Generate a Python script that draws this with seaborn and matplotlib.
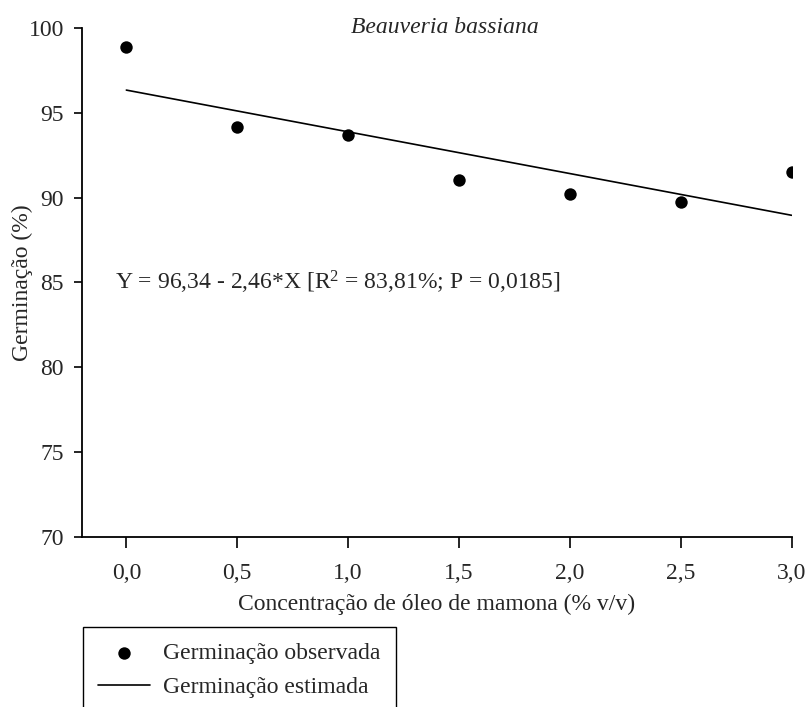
import numpy as np
import pandas as pd
import matplotlib
matplotlib.use('Agg')
import matplotlib.pyplot as plt
import seaborn as sns

# observed germination (%) per castor oil concentration (% v/v)
conc = [0.0, 0.5, 1.0, 1.5, 2.0, 2.5, 3.0]
germ_obs = [98.88, 94.19, 93.72, 91.02, 90.20, 89.72, 91.54]

# estimated line Y = 96,34 - 2,46*X (end points)
fit_x = [0.0, 3.0]
fit_y = [96.34, 88.96]

x_ticks = [0.0, 0.5, 1.0, 1.5, 2.0, 2.5, 3.0]
x_tick_labels = ['0,0', '0,5', '1,0', '1,5', '2,0', '2,5', '3,0']
y_ticks = [70, 75, 80, 85, 90, 95, 100]

sns.set_style('ticks')
plt.rcParams['font.family'] = ['Liberation Serif', 'DejaVu Serif']
plt.rcParams['mathtext.fontset'] = 'custom'
plt.rcParams['mathtext.rm'] = 'Liberation Serif'
plt.rcParams['mathtext.it'] = 'Liberation Serif:italic'

FS = 17

fig = plt.figure(figsize=(8.07, 7.07), dpi=100)
ax = fig.add_axes([0.1016, 0.2405, 0.8794, 0.7199])

df_obs = pd.DataFrame({'x': conc, 'y': germ_obs})
df_fit = pd.DataFrame({'x': fit_x, 'y': fit_y})

sns.scatterplot(data=df_obs, x='x', y='y', ax=ax, color='black', s=80,
                edgecolor='black', linewidth=0, label='Germinação observada', zorder=3)
sns.lineplot(data=df_fit, x='x', y='y', ax=ax, color='black', linewidth=1.2,
             label='Germinação estimada')

ax.set_xlim(-0.2, 3.0)
ax.set_ylim(70, 100)
ax.set_xticks(x_ticks)
ax.set_xticklabels(x_tick_labels)
ax.set_yticks(y_ticks)
ax.tick_params(axis='both', labelsize=FS, color='black', width=1.2, direction='out')
ax.tick_params(axis='x', length=8, pad=11)
ax.tick_params(axis='y', length=6, pad=7)
for sp in ['top', 'right']:
    ax.spines[sp].set_visible(False)
for sp in ['left', 'bottom']:
    ax.spines[sp].set_color('black')
    ax.spines[sp].set_linewidth(1.3)

ax.set_xlabel('Concentração de óleo de mamona (% v/v)', fontsize=FS, labelpad=7)
ax.set_ylabel('Germinação (%)', fontsize=FS)
ax.yaxis.set_label_coords(-0.069, 0.5)

ax.text(0.511, 1.0, 'Beauveria bassiana', transform=ax.transAxes, fontsize=FS,
        style='italic', ha='center', va='center')
ax.text(-0.05, 85, 'Y = 96,34 - 2,46*X [R$^2$ = 83,81%; P = 0,0185]',
        fontsize=FS, ha='left', va='center')

leg = ax.legend(loc='upper left', bbox_to_anchor=(0.103, 0.1132),
                bbox_transform=fig.transFigure, fontsize=FS, frameon=True,
                fancybox=False, edgecolor='black', framealpha=1,
                borderpad=0.65, labelspacing=0.55, handlelength=2.2,
                handletextpad=0.53, borderaxespad=0)
leg.get_frame().set_linewidth(1.0)

fig.savefig('out.png', dpi=100)
